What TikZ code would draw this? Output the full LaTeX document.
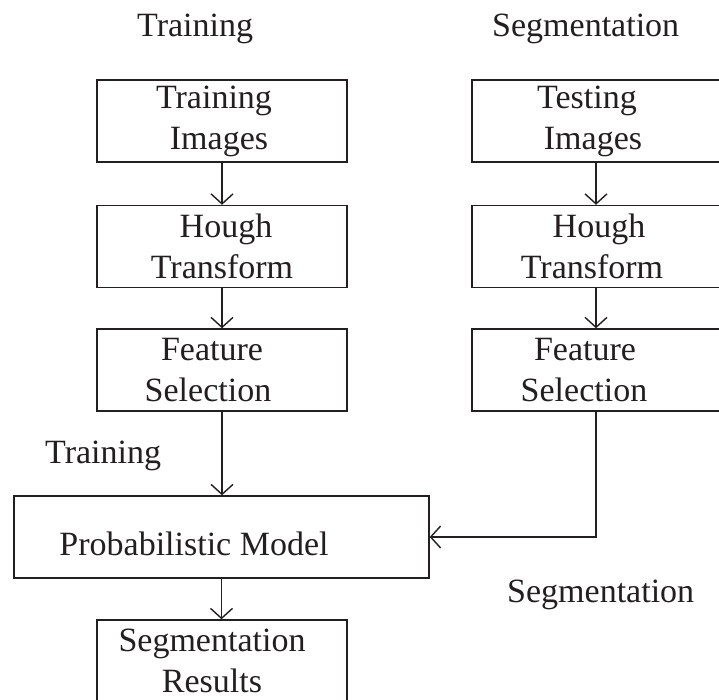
\documentclass[tikz,border=0pt]{standalone}
\usepackage{fontspec}
\setmainfont{Liberation Serif}
\usetikzlibrary{arrows.meta}
\definecolor{ink}{RGB}{35,31,32}
% pad a centred line: \padL moves it right, \padR moves it left (by half the pad)
\newcommand{\padL}[1]{\hspace*{#1}}
\newcommand{\padR}[1]{\hspace*{#1}}
\begin{document}
\begin{tikzpicture}[x=1pt,y=-1pt,
  every node/.style={font=\fontsize{34}{41}\selectfont, text=ink},
  stage/.style={draw=ink, line width=1.4pt, inner sep=0pt,
    minimum width=250pt, minimum height=82pt, align=center},
  flow/.style={draw=ink, line width=1.4pt,
    -{Straight Barb[length=10pt,width=22pt,line width=1.4pt]}},
  caption/.style={anchor=base west, inner sep=0pt}]
\clip (0,0) rectangle (719,700);
\fill[white] (0,0) rectangle (719,700);

% column headings
\node[caption] (titleL) at (137,37) {Training};
\node[caption] (titleR) at (492,37) {Segmentation};

% training pipeline
\node[stage] (trimg)   at (222,121)
  {Training\padR{16pt}\\Images\padR{6pt}};
\node[stage] (trhough) at (222,246.5)
  {\padL{8pt}Hough\\Transform};
\node[stage] (trfeat)  at (222,370)
  {Feature\padR{20pt}\\Selection\padR{28pt}};

% segmentation pipeline
\node[stage, minimum width=248pt] (teimg)   at (596,121)
  {Testing\padR{18pt}\\Images\padR{6pt}};
\node[stage, minimum width=248pt] (tehough) at (596,246.5)
  {\padL{6pt}Hough\\Transform\padR{8pt}};
\node[stage, minimum width=248pt] (tefeat)  at (596,370)
  {Feature\padR{22pt}\\Selection\padR{24pt}};

% shared model and output
\node[stage, minimum width=415pt, text height=44pt, text depth=8pt] (model)
  at (221.5,537) {Probabilistic Model\padR{55pt}};
\node[stage] (result) at (222,661)
  {Segmentation\padR{20pt}\\Results\padR{20pt}};

% path labels
\node[caption] (lblTrain) at (45,463)  {Training};
\node[caption] (lblSeg)   at (507,602) {Segmentation};

% connectors
\draw[flow] (trimg)   -- (trhough);
\draw[flow] (trhough) -- (trfeat);
\draw[flow] (trfeat)  -- (trfeat.south |- model.north);
\draw[flow] (teimg)   -- (tehough);
\draw[flow] (tehough) -- (tefeat);
\draw[flow] (tefeat.south) |- (model.east);
\draw[flow] (model) -- (model.south |- result.north);
\end{tikzpicture}
\end{document}
